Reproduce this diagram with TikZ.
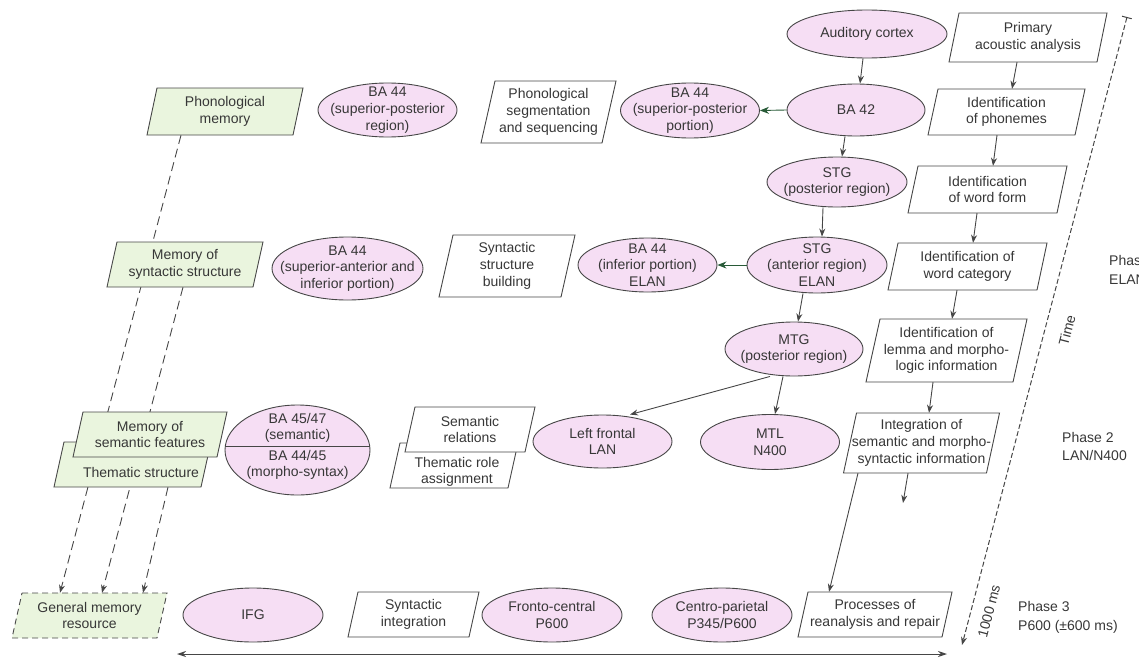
\documentclass[tikz,border=0pt]{standalone}
\usepackage{fontspec}
\setmainfont{Liberation Sans}
\usetikzlibrary{shapes.geometric,arrows.meta,calc}
\pgfdeclarelayer{bg}
\pgfsetlayers{bg,main}
\definecolor{pinkfill}{RGB}{246,222,244}
\definecolor{greenfill}{RGB}{234,245,222}
\definecolor{edge}{RGB}{70,70,70}
\definecolor{txt}{RGB}{55,55,55}
\definecolor{darkgreen}{RGB}{40,90,55}
\tikzset{
 ellshape/.style={ellipse, draw=edge, fill=pinkfill, line width=0.9pt, inner sep=0pt},
 pshape/.style={draw=edge, fill=white, line width=0.9pt},
 memshape/.style={pshape, fill=greenfill},
 gmshape/.style={pshape, fill=greenfill, dash pattern=on 6pt off 4pt},
 anchorbox/.style={rectangle, draw=none, inner sep=0pt},
 lbl/.style={align=center, text=txt, inner sep=0pt, font=\fontsize{14}{16.7}\selectfont},
 flow/.style={draw=edge, line width=0.9pt, -{Stealth[length=8pt,width=6pt]}},
 greenflow/.style={draw=darkgreen, line width=0.9pt, -{Stealth[length=9pt,width=7pt]}},
 memflow/.style={draw=edge, line width=0.9pt, dash pattern=on 9pt off 5pt, -{Stealth[length=8pt,width=6pt]}},
 phase/.style={align=left, anchor=west, text=txt, inner sep=0pt, font=\fontsize{14}{18.5}\selectfont},
}
\newcommand{\mkell}[6]{%
  \node[ellshape, minimum width=#4pt, minimum height=#5pt] (#1) at (#2,#3) {};
  \node[lbl] (#1t) at (#1.center) {#6};
}
\newcommand{\mkpara}[8][pshape]{%
  \path[#1] (#3-#5/2+#7,#4-#6/2) -- (#3+#5/2+#7,#4-#6/2) -- (#3+#5/2-#7,#4+#6/2) -- (#3-#5/2-#7,#4+#6/2) -- cycle;
  \node[anchorbox, minimum width=#5pt, minimum height=#6pt] (#2) at (#3,#4) {};
  \node[lbl] (#2t) at (#2.center) {#8};
}
\begin{document}
\begin{tikzpicture}[x=1pt,y=-1pt]
\clip (0,0) rectangle (1139,661);

% right column: processes
\mkpara{pa}{1028}{37.5}{148}{49}{5}{Primary\\acoustic analysis}
\mkpara{ph}{1006.5}{112}{147}{46}{5}{Identification\\of phonemes}
\mkpara{wf}{987.5}{189.5}{149}{47}{5}{Identification\\of word form}
\mkpara{wc}{967.5}{266.5}{149}{47}{5}{Identification of\\word category}
\mkpara{lem}{946.5}{350.5}{147}{63}{7}{Identification of\\lemma and morpho-\\logic information}
\mkpara{int}{921.5}{443}{143}{60}{6.5}{Integration of\\semantic and morpho-\\syntactic information}
\mkpara{proc}{875}{614.5}{144}{45}{5}{Processes of\\reanalysis and repair}

% brain-area column
\mkell{aud}{867}{34}{160}{48}{Auditory cortex}
\mkell{ba42}{856}{110}{138}{52}{BA 42}
\mkell{stgp}{837}{182}{140}{50}{STG\\(posterior region)}
\mkell{stga}{817}{265}{140}{56}{STG\\(anterior region)\\ELAN}
\mkell{mtg}{794}{349}{138}{54}{MTG\\(posterior region)}
\mkell{ba44sp}{690}{110.5}{139}{55}{BA 44\\(superior-posterior\\portion)}
\mkell{ba44i}{647.5}{265}{139}{54}{BA 44\\(inferior portion)\\ELAN}
\mkell{lf}{602.5}{441.5}{139}{53}{Left frontal\\LAN}
\mkell{mtl}{770}{442}{139}{55}{MTL\\N400}

% middle column
\mkpara{pss}{548.5}{112}{121}{62}{7}{Phonological\\segmentation\\and sequencing}
\mkpara{ssb}{507}{266}{122}{62}{7}{Syntactic\\structure\\building}
\mkpara{tra}{454}{465.5}{118}{45}{5}{}
\node[lbl] (tralbl) at (457,472) {Thematic role\\assignment};
\mkpara{semrel}{470}{429.5}{120}{45}{5}{Semantic\\relations}

\mkell{ba44sr}{387.5}{110}{139}{54}{BA 44\\(superior-posterior\\region)}
\mkell{ba44sa}{347.5}{268.5}{151}{63}{BA 44\\(superior-anterior and\\inferior portion)}
\mkell{ba45}{297.5}{450}{145}{90}{}
\draw[draw=edge, line width=0.9pt] (225.3,446) -- (369.7,446);
\node[lbl] (ba45top) at (297.5,428) {BA 45/47\\(semantic)};
\node[lbl] (ba45bot) at (297.5,465) {BA 44/45\\(morpho-syntax)};

% memory column
\mkpara[memshape]{phm}{225}{111.5}{146}{47}{5}{Phonological\\memory}
\mkpara[memshape]{msyn}{185}{264.5}{146}{45}{5}{Memory of\\syntactic structure}
\mkpara[memshape]{thm}{132.5}{464.5}{147}{45}{5}{}
\node[lbl] (thmlbl) at (141,472) {Thematic structure};
\mkpara[memshape]{msem}{150}{434.5}{144}{45}{5}{Memory of\\semantic features}
\mkpara[gmshape]{gm}{89.5}{615.5}{145}{45}{5}{General memory\\resource}

% bottom row
\mkell{ifg}{253}{615}{140}{54}{IFG}
\mkpara{si}{413.5}{614.5}{121}{45}{5}{Syntactic\\integration}
\mkell{fc}{552}{615}{140}{54}{Fronto-central\\P600}
\mkell{cp}{722}{615}{140}{54}{Centro-parietal\\P345/P600}

% connectors
\draw[flow] ([xshift=-4pt]aud.south) -- ([xshift=4pt]ba42.north);
\draw[flow] ([xshift=-11pt]ba42.south) -- ([xshift=5pt]stgp.north);
\draw[flow] ([xshift=-14pt]stgp.south) -- ([xshift=5pt]stga.north);
\draw[flow] ([xshift=-14pt]stga.south) -- ([xshift=4pt]mtg.north);
\draw[flow] ([xshift=-24pt]mtg.south) -- ([xshift=27.5pt]lf.north);
\draw[flow] ([xshift=-11pt]mtg.south) -- ([xshift=5pt]mtl.north);
\draw[greenflow] (ba42.west) -- (ba44sp.east);
\draw[greenflow] (stga.west) -- (ba44i.east);

\draw[flow] ([xshift=-11pt]pa.south) -- ([xshift=5.5pt]ph.north);
\draw[flow] ([xshift=-9.5pt]ph.south) -- ([xshift=5.5pt]wf.north);
\draw[flow] ([xshift=-10.5pt]wf.south) -- ([xshift=5.5pt]wc.north);
\draw[flow] ([xshift=-10.5pt]wc.south) -- ([xshift=5.5pt]lem.north);
\draw[flow] ([xshift=-13.5pt]lem.south) -- ([xshift=7.5pt]int.north);
\coordinate (dang) at (903,503);
\draw[flow] ([xshift=-13.5pt]int.south) -- (dang);
\draw[flow] ([xshift=-63.5pt]int.south) -- ([xshift=-46pt]proc.north);

\begin{pgfonlayer}{bg}
\draw[memflow] ([xshift=-44pt]phm.south) -- ([xshift=-29.5pt]gm.north);
\draw[memflow] ([xshift=-2pt]msyn.south) -- ([xshift=12.5pt]gm.north);
\draw[memflow] ([xshift=35.5pt]thm.south) -- ([xshift=53.5pt]gm.north);
\end{pgfonlayer}

% time axis
\coordinate (ttop) at (1127,17);
\coordinate (tbot) at (962,645);
\draw[draw=edge, line width=1pt, dash pattern=on 5pt off 2.5pt, {Bar[width=10pt]}-{Stealth[length=8pt,width=6pt]}] (ttop) -- (tbot);
\node[lbl, rotate=75.3] (timelbl) at (1067,330) {Time};
\node[lbl, rotate=75.3] (mslbl) at (989,611) {1000 ms};

\coordinate (bl) at (177,654);
\coordinate (br) at (947,654);
\draw[draw=edge, line width=1pt, {Stealth[length=9pt,width=6pt]}-{Stealth[length=9pt,width=6pt]}] (bl) -- (br);

% phases
\node[phase] (ph1) at (1109,270) {Phase 1\\ELAN};
\node[phase] (ph2) at (1062,446.5) {Phase 2\\LAN/N400};
\node[phase] (ph3) at (1018,617.5) {Phase 3\\P600 (±600 ms)};
\end{tikzpicture}
\end{document}
